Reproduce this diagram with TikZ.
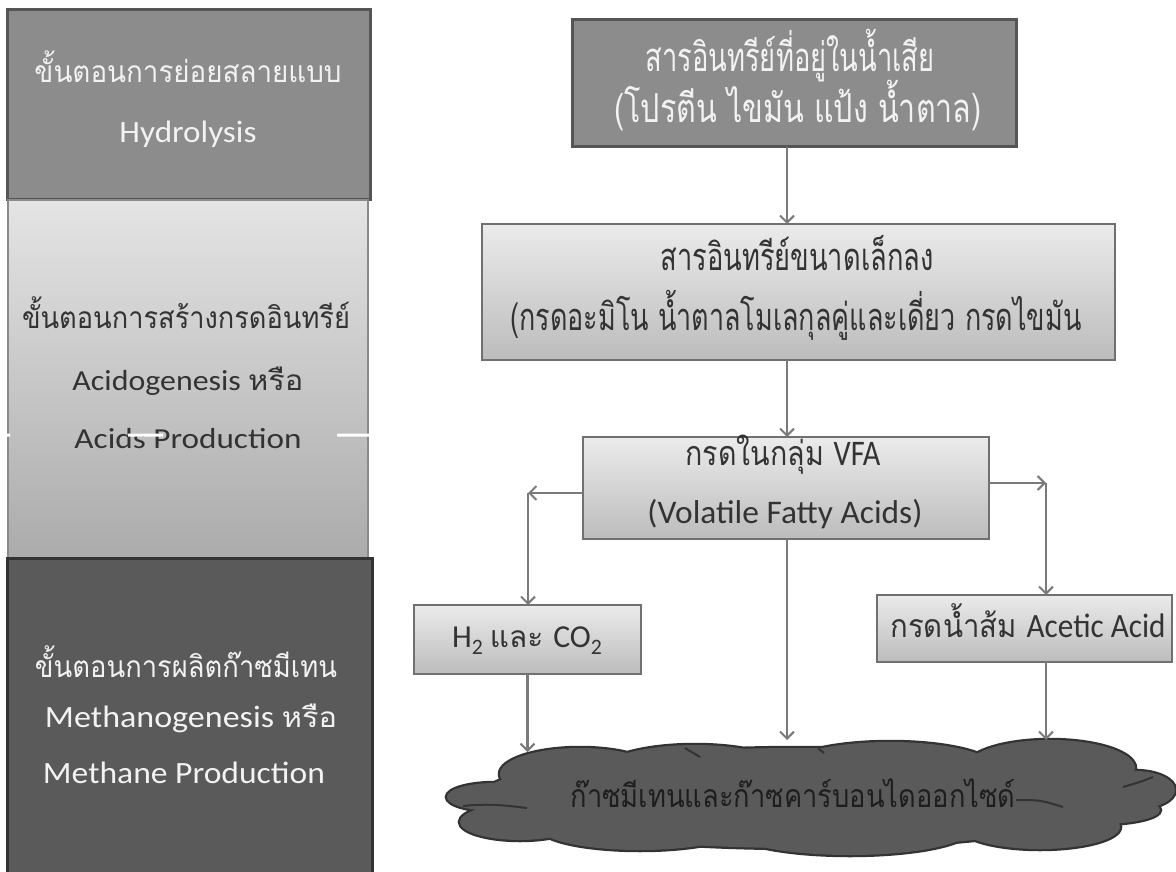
\documentclass[tikz,border=0pt]{standalone}
\usepackage{fontspec}
\usepackage{graphicx}
\usetikzlibrary{arrows.meta}
\newfontfamily\thaif[Script=Thai]{Loma}
\newfontfamily\latf{Carlito}
\newcommand\fitw[2]{\resizebox{#1}{\height}{#2}}
\newcommand\thsz[1]{\thaif\fontsize{#1}{#1}\selectfont}
\newcommand\lasz[1]{\latf\fontsize{#1}{#1}\selectfont}
\definecolor{midgray}{HTML}{8C8C8C}
\definecolor{midborder}{HTML}{555555}
\definecolor{darkfill}{HTML}{5A5A5A}
\definecolor{darkborder}{HTML}{333333}
\definecolor{lighttop}{HTML}{EBEBEB}
\definecolor{lightbot}{HTML}{BCBCBC}
\definecolor{acidtop}{HTML}{E4E4E4}
\definecolor{acidbot}{HTML}{ABABAB}
\definecolor{lightborder}{HTML}{707070}
\definecolor{acidborder}{HTML}{8A8A8A}
\definecolor{arrowgray}{HTML}{7A7A7A}
\definecolor{whitetext}{HTML}{F2F2F2}
\definecolor{darktext}{HTML}{333333}
\definecolor{cloudtext}{HTML}{1E1E1E}
\newcommand\cloudpath{%
 (800,798) ellipse [x radius=320pt, y radius=50pt]
 (495,797) ellipse [x radius=48pt, y radius=14pt]
 (520,822) ellipse [x radius=60pt, y radius=18pt]
 (580,774) ellipse [x radius=80pt, y radius=26pt]
 (695,772) ellipse [x radius=95pt, y radius=27pt]
 (890,768) ellipse [x radius=105pt, y radius=26pt]
 (1050,768) ellipse [x radius=85pt, y radius=28pt]
 (1135,790) ellipse [x radius=40pt, y radius=19pt]
 (1100,810) ellipse [x radius=60pt, y radius=14pt]
 (640,828) ellipse [x radius=100pt, y radius=22pt]
 (850,830) ellipse [x radius=120pt, y radius=25pt]
 (1040,827) ellipse [x radius=80pt, y radius=22pt]}
\begin{document}
\begin{tikzpicture}[x=1pt,y=-1pt,
  box/.style={rectangle, inner sep=0pt, outer sep=0pt, anchor=north west},
  lightbox/.style={box, draw=lightborder, line width=1.8pt, top color=lighttop, bottom color=lightbot},
  lbl/.style={anchor=base, inner sep=0pt, outer sep=0pt},
  arr/.style={draw=arrowgray, line width=2.4pt, -{Straight Barb[length=7pt,width=14pt,line width=2pt]}}]
\useasboundingbox (0,0) rectangle (1176,872);
\fill[white] (0,0) rectangle (1176,872);
% left column
\node[box, draw=midborder, line width=3pt, fill=midgray, minimum width=363pt, minimum height=190pt] (hyd) at (7,10) {};
\node[box, draw=acidborder, line width=1.5pt, top color=acidtop, bottom color=acidbot, minimum width=360pt, minimum height=358pt] (acid) at (8,200) {};
\node[box, draw=darkborder, line width=3pt, fill=darkfill, minimum width=365pt, minimum height=330pt] (meth) at (7,558) {};
\node[lbl, text=whitetext] (h1) at (188,83) {\fitw{307pt}{\thsz{30}ขั้นตอนการย่อยสลายแบบ}};
\node[lbl, text=whitetext] (h2) at (188,143) {\fitw{137pt}{\lasz{31}Hydrolysis}};
\node[lbl, text=darktext] (a1) at (186,328) {\fitw{328pt}{\thsz{30}ขั้นตอนการสร้างกรดอินทรีย์}};
\node[lbl, text=darktext] (a2) at (188,390) {\fitw{231pt}{\lasz{29}Acidogenesis \thsz{28}หรือ}};
\node[lbl, text=darktext] (a3) at (188,448) {\fitw{227pt}{\lasz{29}Acids Production}};
\fill[white] (0,433.5) rectangle (10,436.5) (128,433.5) rectangle (163,436.5) (337,433.5) rectangle (372,436.5);
\node[lbl, text=whitetext] (m1) at (186,677) {\fitw{302pt}{\thsz{30}ขั้นตอนการผลิตก๊าซมีเทน}};
\node[lbl, text=whitetext] (m2) at (191,727) {\fitw{292pt}{\lasz{31}Methanogenesis \thsz{28}หรือ}};
\node[lbl, text=whitetext] (m3) at (184,783) {\fitw{282pt}{\lasz{31}Methane Production}};
% right flow
\node[box, draw=midborder, line width=3pt, fill=midgray, minimum width=444pt, minimum height=127pt] (top) at (572,20) {};
\node[lbl, text=whitetext] (t1) at (790,72) {\fitw{289pt}{\thsz{40}สารอินทรีย์ที่อยู่ในน้ำเสีย}};
\node[lbl, text=whitetext] (t2) at (798,123) {\fitw{367pt}{\thsz{40}(โปรตีน ไขมัน แป้ง น้ำตาล)}};
\node[lightbox, minimum width=633pt, minimum height=136pt] (sec) at (482,224) {};
\node[lbl, text=darktext] (s1) at (797,270) {\fitw{273pt}{\thsz{38}สารอินทรีย์ขนาดเล็กลง}};
\node[lbl, text=darktext] (s2) at (796,330) {\fitw{571pt}{\thsz{38}(กรดอะมิโน น้ำตาลโมเลกุลคู่และเดี่ยว กรดไขมัน}};
\node[lightbox, minimum width=406pt, minimum height=102pt] (vfa) at (583,437) {};
\node[lbl, text=darktext] (v1) at (783,465) {\fitw{195pt}{\thsz{34}กรดในกลุ่ม \lasz{36}VFA}};
\node[lbl, text=darktext] (v2) at (785,523) {\fitw{275pt}{\lasz{33}(Volatile Fatty Acids)}};
\node[lightbox, minimum width=227pt, minimum height=69pt] (hc) at (414,605) {};
\node[lbl, text=darktext] (hct) at (527,647) {\fitw{150pt}{\lasz{32}H\raisebox{-7pt}{\lasz{22}2} \thsz{30}และ \lasz{32}CO\raisebox{-7pt}{\lasz{22}2}}};
\node[lightbox, minimum width=295pt, minimum height=67pt] (ac) at (877,595) {};
\node[lbl, text=darktext] (act) at (1028,637) {\fitw{275pt}{\thsz{32}กรดน้ำส้ม \lasz{34}Acetic Acid}};
% cloud
\draw[darkborder, line width=4.5pt] \cloudpath;
\fill[darkfill] \cloudpath;
\draw[darkborder, line width=2pt]
  (463,806) .. controls (490,803) and (510,806) .. (527,808)
  (1016,800) .. controls (1040,800) .. (1063,807)
  (1123,787) .. controls (1140,782) .. (1153,777)
  (685,748) .. controls (692,752) .. (700,757)
  (818,748) .. controls (820,750) .. (824,753);
\node[lbl, text=cloudtext] (ct) at (793,807) {\fitw{445pt}{\thsz{32}ก๊าซมีเทนและก๊าซคาร์บอนไดออกไซด์}};
% connectors
\coordinate (ax) at (787,0);
\coordinate (cl) at (528,493);
\coordinate (cr) at (1046,483);
\coordinate (c1) at (527.5,752);
\coordinate (c2) at (787,740);
\coordinate (c3) at (1046,740);
\draw[arr] (top.south -| ax) -- (sec.north -| ax);
\draw[arr] (sec.south -| ax) -- (vfa.north -| ax);
\draw[arr] (vfa.west |- cl) -- (cl);
\draw[arr] (cl) -- (hc.north -| cl);
\draw[arr] (vfa.east |- cr) -- (cr);
\draw[arr] (cr) -- (ac.north -| cr);
\draw[arr] (hc.south) -- (c1);
\draw[arr] (vfa.south -| ax) -- (c2);
\draw[arr] (ac.south -| cr) -- (c3);
\end{tikzpicture}
\end{document}
